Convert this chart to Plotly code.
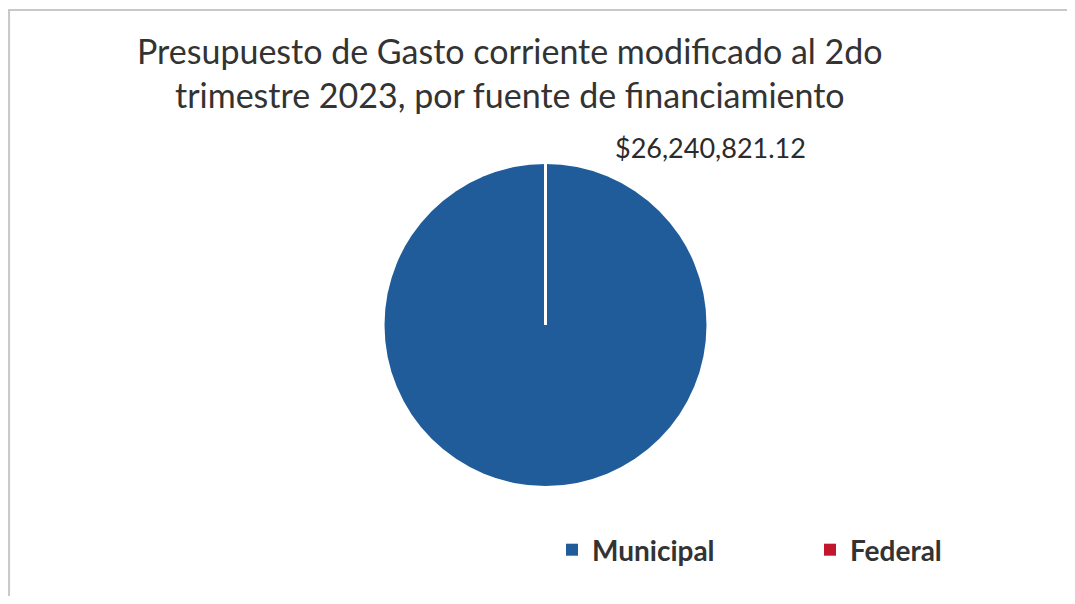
import plotly.graph_objects as go

labels = ["Municipal", "Federal"]
values = [26240821.12, 0]
colors = ["#1f5c99", "#c0172e"]
title_lines = ["Presupuesto de Gasto corriente modificado al 2do",
               "trimestre 2023, por fuente de financiamiento"]

OFF = 8  # page body margin
W, H = 1075 - 2 * OFF, 604 - 2 * OFF


def px(x):
    return (x - OFF) / W


def py(y):
    return 1 - (y - OFF) / H


dom_x = [px(384), px(707)]
dom_y = [py(486), py(164)]

fig = go.Figure()
fig.add_trace(go.Pie(
    labels=labels, values=values, sort=False, direction="clockwise", rotation=0,
    marker=dict(colors=colors, line=dict(color="white", width=0)),
    textinfo="none", hoverinfo="label+value",
    domain=dict(x=dom_x, y=dom_y), showlegend=True,
))

cx = (dom_x[0] + dom_x[1]) / 2
cy = (dom_y[0] + dom_y[1]) / 2
# slice boundary between Federal (0) and Municipal at 12 o'clock
fig.add_shape(type="line", xref="paper", yref="paper",
              x0=cx, x1=cx, y0=cy, y1=dom_y[1], line=dict(color="white", width=3))

fig.add_annotation(text="${:,.2f}".format(values[0]), xref="paper", yref="paper",
                   x=px(710), y=py(147), xanchor="center", yanchor="middle", showarrow=False,
                   font=dict(family="Lato", size=27, color="#2b2b2b"))

fig.add_annotation(text="<br>".join(title_lines), xref="paper", yref="paper",
                   x=px(510), y=py(28), xanchor="center", yanchor="top", showarrow=False,
                   align="center",
                   font=dict(family="Lato", size=34, color="#333333"))

# frame lines (scan border)
fig.add_shape(type="line", xref="paper", yref="paper", x0=0.001, x1=0.001, y0=0, y1=py(10),
              line=dict(color="#c8c8c8", width=2))
fig.add_shape(type="line", xref="paper", yref="paper", x0=0, x1=1, y0=py(10), y1=py(10),
              line=dict(color="#c8c8c8", width=2))

fig.update_layout(
    width=W, height=H,
    margin=dict(l=0, r=0, t=0, b=0, autoexpand=False),
    paper_bgcolor="white", plot_bgcolor="white",
    legend=dict(orientation="h", x=px(552), xanchor="left", y=py(550), yanchor="middle",
                entrywidth=213, entrywidthmode="pixels",
                font=dict(family="Lato", size=28, color="#333333", weight="bold"),
                bgcolor="rgba(0,0,0,0)"),
)

fig.write_html("out.html")
